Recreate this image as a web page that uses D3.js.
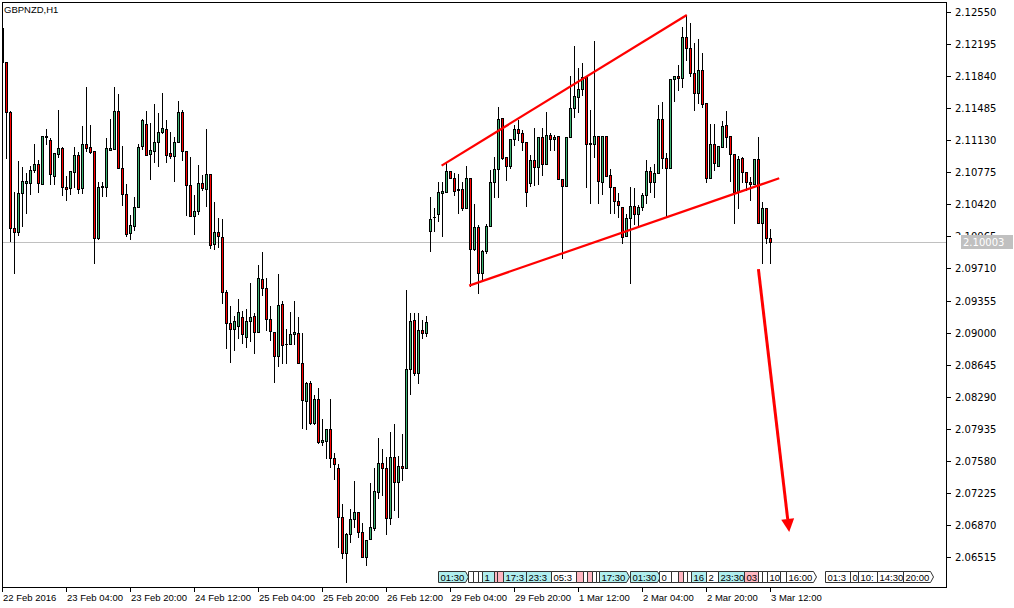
<!DOCTYPE html>
<html><head><meta charset="utf-8">
<script src="https://cdn.jsdelivr.net/npm/d3@7"></script>
<style>
body{margin:0;background:#fff}
svg{display:block}
text{font-family:"Liberation Sans",Arial,sans-serif;font-size:9.5px;fill:#000}
text.pr{font-family:"DejaVu Sans",Verdana,sans-serif;font-size:10px}
</style>
</head><body>
<svg id="c" width="1014" height="608"></svg>
<script>
const symbolName = "GBPNZD,H1";
const opens = [2.12373,2.12000,2.11440,2.10155,2.10117,2.10543,2.10660,2.10660,2.10801,2.10867,2.10642,2.11177,2.11133,2.10738,2.10974,2.11041,2.10609,2.10598,2.10782,2.10967,2.10598,2.11085,2.11055,2.11011,2.10044,2.10609,2.10609,2.11022,2.11030,2.11454,2.10819,2.10532,2.10100,2.10184,2.10388,2.11070,2.11310,2.10978,2.11014,2.11107,2.11218,2.11251,2.10986,2.10959,2.11107,2.11446,2.11011,2.10631,2.10295,2.10350,2.10653,2.10587,2.10753,2.09981,2.10111,2.10062,2.09446,2.09103,2.09037,2.09077,2.09176,2.08955,2.09132,2.09187,2.09010,2.09594,2.09491,2.09147,2.09010,2.08741,2.09313,2.08872,2.08871,2.08981,2.08999,2.08660,2.08246,2.08439,2.08002,2.08265,2.07792,2.07803,2.07929,2.07608,2.07498,2.06955,2.06556,2.06767,2.06936,2.07010,2.06796,2.06519,2.06711,2.06833,2.07238,2.07553,2.07498,2.06950,2.07619,2.07342,2.07526,2.07498,2.08594,2.09140,2.08549,2.09029,2.08996,2.10129,2.10277,2.10310,2.10549,2.10560,2.10790,2.10715,2.10587,2.10587,2.10383,2.10709,2.09923,2.10173,2.09657,2.09907,2.10181,2.10662,2.10817,2.11373,2.10941,2.10848,2.11141,2.11251,2.11207,2.11107,2.10660,2.10911,2.10831,2.11169,2.10864,2.11188,2.11141,2.11177,2.10698,2.10627,2.11163,2.11484,2.11612,2.11694,2.11827,2.11094,2.11085,2.11177,2.10671,2.11177,2.10745,2.10616,2.10461,2.10388,2.10073,2.10272,2.10405,2.10310,2.10388,2.10524,2.10790,2.10664,2.10764,2.11365,2.10930,2.10819,2.11805,2.11845,2.11823,2.12270,2.12148,2.11871,2.11650,2.11908,2.11539,2.10709,2.11085,2.10848,2.11059,2.11299,2.11180,2.10974,2.10560,2.10930,2.10782,2.10671,2.10642,2.10922,2.10210,2.10377,2.10051];
const highs = [2.12462,2.12000,2.11457,2.10554,2.10904,2.10837,2.10764,2.10848,2.11089,2.10911,2.11177,2.11255,2.11152,2.10986,2.11465,2.11059,2.10738,2.10790,2.11059,2.11003,2.11288,2.11723,2.11299,2.11011,2.10664,2.10664,2.11155,2.11362,2.11723,2.11642,2.11066,2.10646,2.10302,2.10505,2.11089,2.11362,2.11454,2.11318,2.11531,2.11428,2.11650,2.11354,2.11225,2.11169,2.11568,2.11465,2.11011,2.10941,2.10524,2.10856,2.10745,2.11251,2.10756,2.10443,2.10266,2.10255,2.09472,2.09295,2.09187,2.09369,2.09243,2.09258,2.09553,2.09220,2.09749,2.09896,2.09601,2.09295,2.09010,2.09649,2.09350,2.09037,2.09225,2.09350,2.09176,2.08992,2.08456,2.08464,2.08309,2.08383,2.08040,2.07929,2.08265,2.07664,2.07542,2.07102,2.06778,2.07047,2.07357,2.07010,2.06888,2.06704,2.07338,2.07504,2.07830,2.07711,2.07626,2.07896,2.07988,2.07637,2.07874,2.09472,2.09214,2.09214,2.09214,2.09140,2.09184,2.10505,2.10377,2.10664,2.10664,2.10875,2.10790,2.10771,2.10756,2.10664,2.10848,2.10709,2.10424,2.10192,2.09915,2.10203,2.10801,2.10945,2.11502,2.11373,2.10941,2.11141,2.11299,2.11354,2.11244,2.11107,2.10967,2.11262,2.11169,2.11262,2.11446,2.11214,2.11188,2.11177,2.10698,2.11163,2.11845,2.12174,2.11927,2.11982,2.11827,2.11465,2.12229,2.11177,2.11177,2.11177,2.10808,2.10616,2.10543,2.10388,2.10310,2.10616,2.10598,2.10413,2.10549,2.10911,2.10837,2.10864,2.11520,2.11557,2.10986,2.11805,2.11845,2.11963,2.12387,2.12517,2.12425,2.12204,2.12251,2.12093,2.11539,2.11307,2.11307,2.11066,2.11343,2.11454,2.11180,2.10974,2.10959,2.10948,2.10782,2.10726,2.10922,2.11169,2.10443,2.10383,2.10147];
const lows = [2.11974,2.10930,2.10018,2.09657,2.10081,2.10184,2.10321,2.10532,2.10775,2.10554,2.10642,2.11089,2.10646,2.10646,2.10948,2.10524,2.10468,2.10532,2.10616,2.10543,2.10549,2.11011,2.10986,2.09768,2.10037,2.10516,2.10518,2.11017,2.11030,2.10819,2.10413,2.10070,2.10033,2.10136,2.10388,2.11033,2.10970,2.10701,2.10893,2.10848,2.11207,2.10893,2.10937,2.10682,2.11107,2.10911,2.10302,2.10295,2.10092,2.10313,2.10579,2.10402,2.09934,2.09926,2.09945,2.09331,2.08826,2.08678,2.08807,2.08937,2.08882,2.08844,2.08910,2.08778,2.09003,2.09417,2.09029,2.08918,2.08450,2.08634,2.08660,2.08660,2.08871,2.08874,2.08660,2.07940,2.07933,2.07985,2.07988,2.07774,2.07756,2.07615,2.07515,2.07379,2.06629,2.06501,2.06242,2.06685,2.06851,2.06740,2.06519,2.06427,2.06711,2.06814,2.07165,2.07202,2.06770,2.06877,2.07036,2.06962,2.07368,2.07498,2.08317,2.08531,2.08439,2.08940,2.08963,2.09907,2.10125,2.10236,2.10073,2.10560,2.10709,2.10524,2.10321,2.10358,2.10383,2.09519,2.09915,2.09435,2.09583,2.09878,2.10181,2.10505,2.10505,2.10922,2.10690,2.10819,2.11077,2.11133,2.11022,2.10405,2.10627,2.10635,2.10642,2.10745,2.10864,2.11022,2.11022,2.10698,2.09823,2.10627,2.11163,2.11391,2.11446,2.11631,2.10616,2.10435,2.10948,2.10432,2.10532,2.10734,2.10328,2.10321,2.10284,2.09989,2.10073,2.09553,2.10203,2.10181,2.10358,2.10432,2.10560,2.10505,2.10764,2.10819,2.10284,2.10819,2.11568,2.11686,2.11723,2.12019,2.11842,2.11465,2.11539,2.11502,2.10671,2.10709,2.10801,2.10848,2.11059,2.11059,2.10682,2.10210,2.10377,2.10671,2.10579,2.10468,2.10642,2.10210,2.09774,2.09989,2.09774];
const closes = [2.11996,2.11440,2.10155,2.10117,2.10543,2.10676,2.10679,2.10801,2.10867,2.10653,2.11177,2.11163,2.10753,2.10986,2.11041,2.10609,2.10587,2.10790,2.10967,2.10587,2.11085,2.11048,2.11003,2.10044,2.10609,2.10620,2.11041,2.11041,2.11454,2.10819,2.10532,2.10092,2.10192,2.10388,2.11052,2.11354,2.10970,2.11022,2.11107,2.11218,2.11262,2.10970,2.10959,2.11107,2.11446,2.11011,2.10631,2.10295,2.10350,2.10653,2.10598,2.10756,2.09970,2.10111,2.10070,2.09446,2.09103,2.09037,2.09132,2.09225,2.08981,2.09132,2.09176,2.09010,2.09601,2.09491,2.09147,2.09021,2.08741,2.09306,2.08863,2.08874,2.08981,2.09003,2.08660,2.08254,2.08439,2.08002,2.08265,2.07792,2.07811,2.07929,2.07608,2.07542,2.06955,2.06556,2.06770,2.06936,2.07010,2.06796,2.06519,2.06704,2.06844,2.07246,2.07553,2.07498,2.06950,2.07619,2.07342,2.07526,2.07498,2.08594,2.09129,2.08549,2.09029,2.08996,2.09118,2.10255,2.10280,2.10554,2.10568,2.10790,2.10709,2.10571,2.10579,2.10383,2.10709,2.09923,2.10173,2.09657,2.09907,2.10181,2.10662,2.10817,2.11362,2.10937,2.10848,2.11141,2.11251,2.11207,2.11114,2.10560,2.10911,2.10831,2.11169,2.10864,2.11188,2.11144,2.11169,2.10698,2.10627,2.11163,2.11484,2.11620,2.11694,2.11827,2.11089,2.11085,2.11177,2.10682,2.11177,2.10738,2.10616,2.10461,2.10413,2.10062,2.10266,2.10405,2.10310,2.10388,2.10524,2.10790,2.10664,2.10771,2.11365,2.10930,2.10819,2.11805,2.11845,2.11823,2.12270,2.12148,2.11871,2.11657,2.11908,2.11531,2.10709,2.11085,2.10875,2.11066,2.11288,2.11169,2.10974,2.10560,2.10922,2.10782,2.10671,2.10642,2.10922,2.10210,2.10377,2.10051,2.10003];

const priceTicks = [2.12550,2.12195,2.11840,2.11485,2.11130,2.10775,2.10420,2.10065,2.09710,2.09355,2.09000,2.08645,2.08290,2.07935,2.07580,2.07225,2.06870,2.06515];
const dateLabels = ["22 Feb 2016","23 Feb 04:00","23 Feb 20:00","24 Feb 12:00","25 Feb 04:00","25 Feb 20:00","26 Feb 12:00","29 Feb 04:00","29 Feb 20:00","1 Mar 12:00","2 Mar 04:00","2 Mar 20:00","3 Mar 12:00"];
const dateLabelBars = [0,16,32,48,64,80,96,112,128,144,160,176,192];
const lastPrice = 2.10003;

// drawn objects: [barIndex, price] endpoints
const upperTrend = [[109.9,2.10849],[171.2,2.12517]];
const lowerTrend = [[116.8,2.09520],[194.3,2.10709]];
const arrowLine  = [[189.1,2.09702],[196.8,2.06792]];

// calendar events along the time axis
const eventBars  = [109,116.5,117.75,119,120,123,123.75,125.25,131,137.25,143.5,145.25,146.25,147.5,148.5,149.25,157,164.25,167.25,169,170.25,171.25,172.25,176,179,185.5,189,190,191.25,194.5,196,205.75,212,214,218.75,225.25];
const eventTimes = ["01:30","03:00","07:00","09:00","10:00","13:00","14:00","17:30","23:30","05:30","09:00","10:00","11:00","12:00","13:00","17:30","01:30","09:00","10:00","13:00","14:00","15:00","16:00","20:00","23:30","03:00","08:00","09:00","10:00","12:00","16:00","01:30","07:00","10:00","14:30","20:00"];
const eventKinds = [1,0,0,0,1,2,2,1,1,0,2,0,2,0,0,1,1,0,0,2,0,0,1,0,1,2,0,0,0,0,0,0,0,0,0,0];

const svg = d3.select("#c");
const PL=2, PT=2, PR=946, PB=587;
const x = d3.scaleLinear().domain([0,192]).range([2,770]);
const y = d3.scaleLinear().domain([2.06515,2.12550]).range([557,12]);
const R = Math.round;

svg.append("rect").attr("width",1014).attr("height",608).attr("fill","#fff");
const defs = svg.append("defs");
defs.append("clipPath").attr("id","plot")
  .append("rect").attr("x",PL+1).attr("y",PT+1).attr("width",PR-PL-1).attr("height",PB-PT-1);

const g = svg.append("g").attr("clip-path","url(#plot)");

// current price line
g.append("rect").attr("x",PL).attr("width",PR-PL).attr("y",R(y(lastPrice))).attr("height",1)
  .attr("fill","#c0c0c0").attr("shape-rendering","crispEdges");

const bars = opens.map((o,i)=>({i,o,h:highs[i],l:lows[i],c:closes[i]}));
const topY = d => R(y(Math.max(d.o,d.c)));
const botY = d => R(y(Math.min(d.o,d.c)));
const cg = g.append("g");
const cand = cg.selectAll("g.cd").data(bars).join("g").attr("class","cd");
cand.append("rect")
  .attr("x",d=>R(x(d.i))).attr("width",1)
  .attr("y",d=>R(y(d.h))).attr("height",d=>R(y(d.l))-R(y(d.h))+1)
  .style("fill","#000");
cand.append("rect")
  .attr("x",d=>R(x(d.i))-1).attr("width",3)
  .attr("y",topY).attr("height",d=>botY(d)-topY(d)+1)
  .style("fill","#000");
cand.filter(d=>botY(d)-topY(d)>=2).append("rect")
  .attr("x",d=>R(x(d.i))).attr("width",1)
  .attr("y",d=>topY(d)+1).attr("height",d=>botY(d)-topY(d)-1)
  .style("fill",d=>d.c>=d.o?"#3cb371":"#ff0000");

// trend lines
const lineGen = d3.line().x(d=>x(d[0])).y(d=>y(d[1]));
[upperTrend, lowerTrend].forEach(t=>{
  g.append("path").attr("d",lineGen(t)).attr("stroke","#ff0000").attr("stroke-width",2.2).attr("fill","none");
});
// arrow
{
  const p0=[x(arrowLine[0][0]),y(arrowLine[0][1])], p1=[x(arrowLine[1][0]),y(arrowLine[1][1])];
  const dx=p1[0]-p0[0], dy=p1[1]-p0[1], L=Math.hypot(dx,dy), ux=dx/L, uy=dy/L;
  const hl=13, hw=6.5;
  const bx=p1[0]-ux*hl, by=p1[1]-uy*hl;
  g.append("line").attr("x1",p0[0]).attr("y1",p0[1]).attr("x2",bx).attr("y2",by)
    .attr("stroke","#ff0000").attr("stroke-width",3);
  g.append("path").attr("d",`M${p1[0]},${p1[1]}L${bx-uy*hw},${by+ux*hw}L${bx+uy*hw},${by-ux*hw}Z`).attr("fill","#ff0000");
}

// events strip (later events drawn over earlier ones; text cut to the visible part)
const eg = svg.append("g").style("font-size","9.5px");
const kindFill = ["#ffffff","#afeeee","#ffb6c1"];
const measure = eg.append("text").attr("x",-100).attr("y",-100);
const tw = s => { measure.text(s); return measure.node().getComputedTextLength(); };
eventBars.forEach((b,k)=>{
  const x0 = R(x(b))+0.5;
  const full = eventTimes[k];
  const w = Math.ceil(tw(full))+3;
  const next = k<eventBars.length-1 ? R(x(eventBars[k+1]))+0.5 : Infinity;
  const vis = next - x0;
  let s = full;
  while (s.length && tw(s)+2 > vis) s = s.slice(0,-1);
  eg.append("path").attr("d",`M${x0},571.5H${x0+w}L${x0+w+3},577L${x0+w},582.5H${x0}Z`)
    .attr("fill",kindFill[eventKinds[k]]).attr("stroke","#333").attr("stroke-width",1);
  if (s.length) eg.append("text").attr("x",x0+2).attr("y",580.5).text(s);
});
measure.remove();

// frame
svg.append("rect").attr("x",PL+0.5).attr("y",PT+0.5).attr("width",PR-PL).attr("height",PB-PT)
  .attr("fill","none").attr("stroke","#000").attr("shape-rendering","crispEdges");

// right axis
const ra = svg.append("g");
const yLast = R(y(lastPrice));
defs.append("clipPath").attr("id","hideUnder")
  .append("rect").attr("x",PR).attr("y",0).attr("width",70).attr("height",yLast-7);
priceTicks.forEach(p=>{
  const yy=R(y(p));
  ra.append("line").attr("x1",PR).attr("x2",PR+5).attr("y1",yy+0.5).attr("y2",yy+0.5).attr("stroke","#000").attr("shape-rendering","crispEdges");
  const t = ra.append("text").attr("class","pr").attr("x",PR+9).attr("y",yy+4).text(p.toFixed(5));
  if (Math.abs(p-lastPrice) < 0.0012) t.attr("clip-path","url(#hideUnder)");
});
// current price label (covers the lower part of the neighbouring tick label)
ra.append("rect").attr("x",PR+15).attr("y",yLast-7).attr("width",52).attr("height",14).attr("fill","#c0c0c0");
ra.append("text").attr("class","pr").attr("x",PR+17).attr("y",yLast+4).style("fill","#fff").text(lastPrice.toFixed(5));

// bottom axis
const ba = svg.append("g");
dateLabels.forEach((s,k)=>{
  const xx=R(x(dateLabelBars[k]));
  ba.append("line").attr("x1",xx+0.5).attr("x2",xx+0.5).attr("y1",PB).attr("y2",PB+5).attr("stroke","#000").attr("shape-rendering","crispEdges");
  ba.append("text").attr("x",xx+1).attr("y",601).text(s);
});

// symbol
svg.append("text").attr("x",4).attr("y",13).text(symbolName);
</script>
</body></html>
